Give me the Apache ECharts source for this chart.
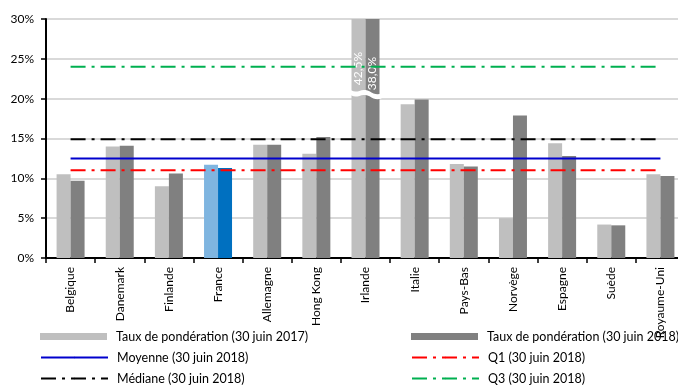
<!DOCTYPE html>
<html>
<head>
<meta charset="utf-8">
<script src="https://cdn.jsdelivr.net/npm/echarts@6/dist/echarts.min.js"></script>
<style>
html,body{margin:0;padding:0;background:#fff;}
#chart{width:678px;height:385px;}
</style>
</head>
<body>
<div id="chart"></div>
<script>
// ---- data ----
const categories = ['Belgique','Danemark','Finlande','France','Allemagne','Hong Kong','Irlande','Italie','Pays-Bas','Norvège','Espagne','Suède','Royaume-Uni'];
const taux2017 = [10.5, 14.0, 9.0, 11.7, 14.2, 13.1, 42.5, 19.3, 11.8, 5.0, 14.4, 4.2, 10.5];
const taux2018 = [9.7, 14.1, 10.6, 11.3, 14.2, 15.2, 38.0, 19.9, 11.5, 17.9, 12.8, 4.1, 10.3];
const moyenne2018 = 12.5;
const q1_2018 = 11.0;
const mediane2018 = 14.9;
const q3_2018 = 24.0;
const yTicks = [0, 5, 10, 15, 20, 25, 30];
const highlightCategory = 'France';
const brokenCategory = 'Irlande';
const breakValue = 20.6;   // where the bar break is drawn on the capped bars

const names = {
  s2017: 'Taux de pondération (30 juin 2017)',
  s2018: 'Taux de pondération (30 juin 2018)',
  moy: 'Moyenne (30 juin 2018)',
  q1: 'Q1 (30 juin 2018)',
  med: 'Médiane (30 juin 2018)',
  q3: 'Q3 (30 juin 2018)'
};

// ---- styling ----
const FONT = 'Lato';
const C2017 = '#BFBFBF', C2018 = '#808080';
const CFR2017 = '#7FB5E0', CFR2018 = '#0070C0';
const dash = [15, 6, 3, 6];
const yMax = yTicks[yTicks.length - 1];

function fmt(v){ return v.toFixed(1).replace('.', ',') + '%'; }

function barData(vals, hiColor, labelDist){
  return vals.map((v, i) => {
    const item = { value: v };
    if (categories[i] === highlightCategory) item.itemStyle = { color: hiColor };
    if (v > yMax) {
      item.label = {
        show: true, position: 'insideTop', rotate: 90, distance: labelDist,
        align: 'right', verticalAlign: 'middle',
        color: '#fff', fontFamily: FONT, fontSize: 12,
        formatter: () => fmt(v)
      };
    }
    return item;
  });
}

function refLine(name, value, color, type){
  return {
    name: name, type: 'line', symbol: 'none', symbolSize: 0, z: 5,
    data: [[categories[0], value], [categories[categories.length - 1], value]],
    lineStyle: { color: color, width: 2, type: type },
    itemStyle: { color: color },
    emphasis: { disabled: true }, silent: true, animation: false
  };
}

const legendText = { fontFamily: FONT, fontSize: 12.5, color: '#000', padding: [0, 0, 0, 4] };
function legendAt(name, left, top, isBar){
  return {
    data: [isBar ? { name: name, icon: 'rect' } : { name: name }],
    left: left, top: top, padding: 0,
    itemWidth: 67, itemHeight: isBar ? 7 : 2, itemGap: 8,
    textStyle: legendText, selectedMode: false
  };
}

const chart = echarts.init(document.getElementById('chart'), null, { renderer: 'canvas' });
chart.setOption({
  animation: false,
  backgroundColor: '#fff',
  textStyle: { fontFamily: FONT },
  grid: { left: 46, top: 19, right: -7, bottom: 127, containLabel: false, outerBoundsMode: 'none' },
  xAxis: {
    type: 'category', data: categories,
    axisLine: { lineStyle: { color: '#000', width: 2 } },
    axisTick: { show: true, length: 5, lineStyle: { color: '#000', width: 1.5 } },
    axisLabel: { rotate: 90, margin: 9, color: '#000', fontFamily: FONT, fontSize: 12, interval: 0 },
    splitLine: { show: false }
  },
  yAxis: {
    type: 'value', min: yTicks[0], max: yMax, interval: yTicks[1] - yTicks[0],
    axisLine: { show: true, lineStyle: { color: '#000', width: 2 } },
    axisTick: { show: true, length: 5, lineStyle: { color: '#000', width: 1.5 } },
    axisLabel: { formatter: '{value}%', color: '#000', fontFamily: FONT, fontSize: 12, margin: 12 },
    splitLine: { show: true, lineStyle: { color: '#D9D9D9', width: 2 } }
  },
  legend: [
    legendAt(names.s2017, 40, 330, true),
    legendAt(names.moy, 40, 351, false),
    legendAt(names.med, 40, 372, false),
    legendAt(names.s2018, 411, 330, true),
    legendAt(names.q1, 411, 351, false),
    legendAt(names.q3, 411, 372, false)
  ],
  series: [
    {
      name: names.s2017, type: 'bar', barWidth: 14, barGap: '0%', clip: true,
      itemStyle: { color: C2017 },
      data: barData(taux2017, CFR2017, 33)
    },
    {
      name: names.s2018, type: 'bar', barWidth: 14, barGap: '0%', clip: true,
      itemStyle: { color: C2018 },
      data: barData(taux2018, CFR2018, 38)
    },
    {
      name: 'break', type: 'custom', z: 4, silent: true,
      data: [[categories.indexOf(brokenCategory), breakValue]],
      renderItem: function(params, api){
        const p = api.coord([api.value(0), api.value(1)]);
        const half = 16;
        const top = [], bot = [];
        const n = 16;
        for (let k = 0; k <= n; k++) {
          const t = k / n;
          const x = p[0] - half + 2 * half * t;
          const yc = p[1] - 2 + 4 * t + 1.5 * Math.sin(t * Math.PI * 3);
          top.push([x, yc - 2.5]);
          bot.unshift([x, yc + 2.5]);
        }
        return { type: 'polygon', shape: { points: top.concat(bot) }, style: { fill: '#fff' } };
      }
    },
    refLine(names.moy, moyenne2018, '#0000CD', 'solid'),
    refLine(names.q1, q1_2018, '#FF0000', dash),
    refLine(names.med, mediane2018, '#000000', dash),
    refLine(names.q3, q3_2018, '#00B050', dash)
  ]
});
</script>
</body>
</html>
